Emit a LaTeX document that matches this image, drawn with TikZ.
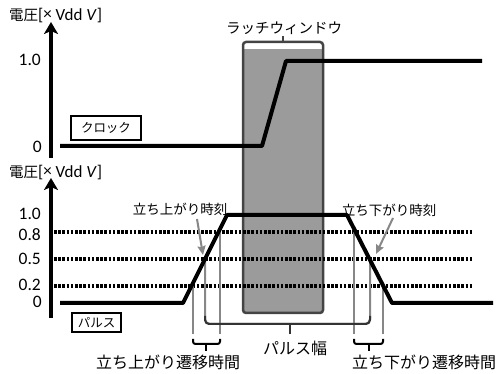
\documentclass[tikz,border=0pt]{standalone}
\usepackage{fontspec}
\setmainfont{Carlito}
\newfontfamily\jp{Noto Sans CJK JP}
\usetikzlibrary{arrows.meta}
\definecolor{wingray}{RGB}{155,155,155}
\definecolor{winedge}{RGB}{68,68,68}
\definecolor{guide}{RGB}{135,135,135}
\begin{document}
\begin{tikzpicture}[x=1pt,y=-1pt,
  axis/.style={line width=4pt,-{Stealth[length=12pt,width=14pt,inset=3pt]}},
  sig/.style={line width=4pt,line join=round},
  lvl/.style={line width=3.3pt,dash pattern=on 2.6pt off 1.6pt},
  guideline/.style={guide,line width=2pt},
  brace/.style={line width=2pt,rounded corners=2.5pt},
  ptr/.style={guide,line width=2pt,-{Stealth[length=9pt,width=8pt,inset=1pt]}},
  num/.style={font=\fontsize{17.5}{18}\selectfont,anchor=east,inner sep=0pt},
  jplab/.style={font=\jp\fontsize{#1}{#1}\selectfont,inner sep=0pt},
  ylab/.style={anchor=west,inner sep=0pt},
  tagbox/.style={draw,line width=1.3pt,minimum width=#1,minimum height=24pt,inner sep=0pt,font=\jp\fontsize{12.5}{13}\selectfont}
]
\useasboundingbox (0,0) rectangle (496,374);

% ---------- latch window ----------
\fill[wingray] (243,49) rectangle (323,313);
\draw[winedge,line width=2.5pt,rounded corners=3pt] (243,313) -- (243,42) -- (323,42) -- (323,313) -- cycle;
\coordinate (wtick) at (283,42);
\coordinate (wtop) at (283,36);
\draw[winedge,line width=2.5pt] (wtick) -- (wtop);
\node[jplab=14.5,anchor=south] (wlabel) at (284,35) {ラッチウィンドウ};

% ---------- top axis (clock) ----------
\coordinate (a1b) at (51,158);
\coordinate (a1t) at (51,22);
\draw[axis] (a1b) -- (a1t);
\node[ylab] (y1) at (9,16) {{\jp\fontsize{14.5}{15}\selectfont 電圧}{\fontsize{17}{17}\selectfont[\raisebox{1.5pt}{×} Vdd \textit{V}]}};
\node[num] (c10) at (41,60) {1.0};
\node[num] (c0) at (42,147) {0};
\node[tagbox=70pt] (clk) at (106,128) {クロック};

\coordinate (k0) at (60,146);
\coordinate (k1) at (262,146);
\coordinate (k2) at (286,61);
\coordinate (k3) at (482,61);
\draw[sig] (k0) -- (k1) -- (k2) -- (k3);

% ---------- bottom axis (pulse) ----------
\coordinate (a2b) at (51,318);
\coordinate (a2t) at (51,178);
\draw[axis] (a2b) -- (a2t);
\node[ylab] (y2) at (9,173) {{\jp\fontsize{14.5}{15}\selectfont 電圧}{\fontsize{17}{17}\selectfont[\raisebox{1.5pt}{×} Vdd \textit{V}]}};
\node[num] (p10) at (41,214) {1.0};
\node[num] (p08) at (41,235) {0.8};
\node[num] (p05) at (41,259) {0.5};
\node[num] (p02) at (41,285) {0.2};
\node[num] (p0) at (42,302) {0};
\node[tagbox=49pt,minimum height=19pt] (pls) at (96.5,322.5) {パルス};

% level lines
\coordinate (l8a) at (54,232); \coordinate (l8b) at (473,232);
\coordinate (l5a) at (54,259); \coordinate (l5b) at (473,259);
\coordinate (l2a) at (54,286); \coordinate (l2b) at (473,286);
\draw[lvl] (l8a) -- (l8b);
\draw[lvl] (l5a) -- (l5b);
\draw[lvl] (l2a) -- (l2b);

% guide lines
\coordinate (r2) at (193,286); \coordinate (r2e) at (193,334);
\coordinate (r8) at (220,232); \coordinate (r8e) at (220,334);
\coordinate (f8) at (354,232); \coordinate (f8e) at (354,334);
\coordinate (f2) at (383,286); \coordinate (f2e) at (383,334);
\coordinate (r5) at (205,259);
\coordinate (f5) at (370,259);
\draw[guideline] (r2) -- (r2e);
\draw[guideline] (r8) -- (r8e);
\draw[guideline] (f8) -- (f8e);
\draw[guideline] (f2) -- (f2e);
\draw[guideline,rounded corners=5pt] (r5) -- (205,324) -- (370,324) -- (f5);

% pulse signal
\coordinate (s0) at (60,303);
\coordinate (s1) at (183,303);
\coordinate (s2) at (227,215);
\coordinate (s3) at (347,215);
\coordinate (s4) at (392,303);
\coordinate (s5) at (493,303);
\draw[sig] (s0) -- (s1) -- (s2) -- (s3) -- (s4) -- (s5);

% pulse width brace
\draw[line width=2pt,rounded corners=4pt,black!80] (205,316) -- (205,324) -- (370,324) -- (370,316);
\coordinate (pwt) at (290,324);
\coordinate (pwb) at (290,334);
\draw[line width=2.5pt,black!80] (pwt) -- (pwb);
\node[jplab=16] (pw) at (295,348) {パルス幅};

% rise transition brace
\draw[brace] (193,339) -- (193,344) -- (220,344) -- (220,339);
\coordinate (rbt) at (206,344);
\coordinate (rbb) at (206,351);
\draw[line width=2.5pt] (rbt) -- (rbb);
\node[jplab=16] (rt) at (168,362) {立ち上がり遷移時間};

% fall transition brace
\draw[brace] (354,339) -- (354,344) -- (383,344) -- (383,339);
\coordinate (fbt) at (369,344);
\coordinate (fbb) at (369,351);
\draw[line width=2.5pt] (fbt) -- (fbb);
\node[jplab=16] (ft) at (424,362) {立ち下がり遷移時間};

% rise / fall time labels and pointers
\node[jplab=13.5] (rlab) at (180,209) {立ち上がり時刻};
\node[jplab=13.5] (flab) at (389,210) {立ち下がり時刻};
\coordinate (rp0) at (197,219);
\coordinate (rp1) at (203,255);
\coordinate (fp0) at (393,218);
\coordinate (fp1) at (376,254);
\draw[ptr] (rp0) -- (rp1);
\draw[ptr] (fp0) -- (fp1);
\end{tikzpicture}
\end{document}
